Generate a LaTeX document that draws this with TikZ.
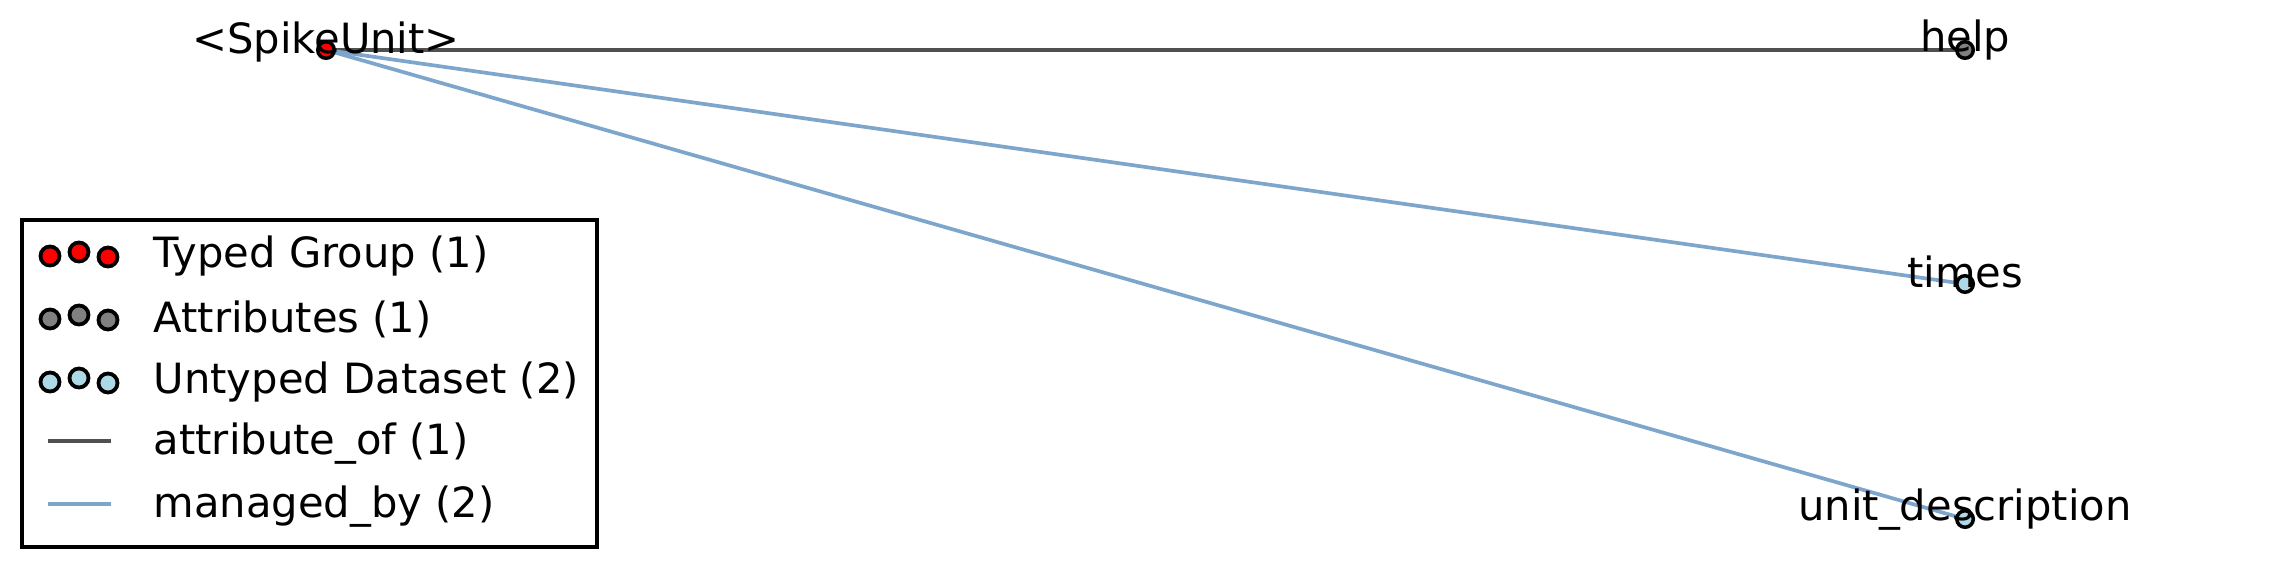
\documentclass[tikz,border=0pt]{standalone}
\usepackage{fontspec}
\setmainfont{DejaVu Sans}
\usetikzlibrary{positioning}
\definecolor{attrgray}{RGB}{80,80,80}
\definecolor{managedblue}{RGB}{126,166,205}
\definecolor{untypedblue}{RGB}{173,216,230}
\tikzset{
  dot/.style={circle, draw=black, line width=0.035cm, minimum size=0.165cm, inner sep=0pt},
  legdot/.style={dot, line width=0.038cm, minimum size=0.19cm},
  typednode/.style={fill=red},
  attrnode/.style={fill=gray},
  untypednode/.style={fill=untypedblue},
  attredge/.style={draw=attrgray, line width=0.037cm},
  managededge/.style={draw=managedblue, line width=0.037cm},
  lbl/.style={anchor=base, inner sep=0pt, font=\fontsize{11.85}{14}\selectfont},
  legtext/.style={anchor=west, inner sep=0pt, font=\fontsize{11.85}{14}\selectfont}
}

\begin{document}
\begin{tikzpicture}[x=0.01cm, y=-0.01cm]
  \useasboundingbox (0,0) rectangle (2292,567);
  % positions
  \coordinate (su) at (326,50);
  \coordinate (help) at (1965,50);
  \coordinate (times) at (1965,284);
  \coordinate (udesc) at (1965,519);
  % edges
  \draw[attredge] (su) -- (help);
  \draw[managededge] (su) -- (times);
  \draw[managededge] (su) -- (udesc);
  % nodes
  \node[dot, typednode] (sunode) at (su) {};
  \node[dot, attrnode] (helpnode) at (help) {};
  \node[dot, untypednode] (timesnode) at (times) {};
  \node[dot, untypednode] (udescnode) at (udesc) {};
  \node[lbl] at ([yshift=-0.03cm]su) {<SpikeUnit>};
  \node[lbl] at ([yshift=-0.02cm]help) {help};
  \node[lbl] at ([yshift=-0.03cm]times) {times};
  \node[lbl] at ([yshift=-0.01cm]udesc) {unit\_description};
  % legend
  \node[draw=black, line width=0.04cm, minimum width=5.75cm, minimum height=3.27cm, anchor=north west, inner sep=0pt] (legend) at (20,218) {};
  \foreach \y/\sty/\txt [count=\i] in {253/typednode/Typed Group (1), 316/attrnode/Attributes (1), 379/untypednode/Untyped Dataset (2)} {
    \node[legdot, \sty] (m\i a) at (50,\y+3) {};
    \node[legdot, \sty] (m\i b) at (79,\y-1) {};
    \node[legdot, \sty] (m\i c) at (108,\y+4) {};
    \node[legtext] (t\i) at (153,\y+3) {\txt};
  }
  \coordinate (la1) at (48,441);
  \coordinate (la2) at (111,441);
  \draw[attredge] (la1) -- (la2);
  \node[legtext] (t4) at (153,444) {attribute\_of (1)};
  \coordinate (lb1) at (48,504);
  \coordinate (lb2) at (111,504);
  \draw[managededge] (lb1) -- (lb2);
  \node[legtext] (t5) at (153,507) {managed\_by (2)};
\end{tikzpicture}
\end{document}
